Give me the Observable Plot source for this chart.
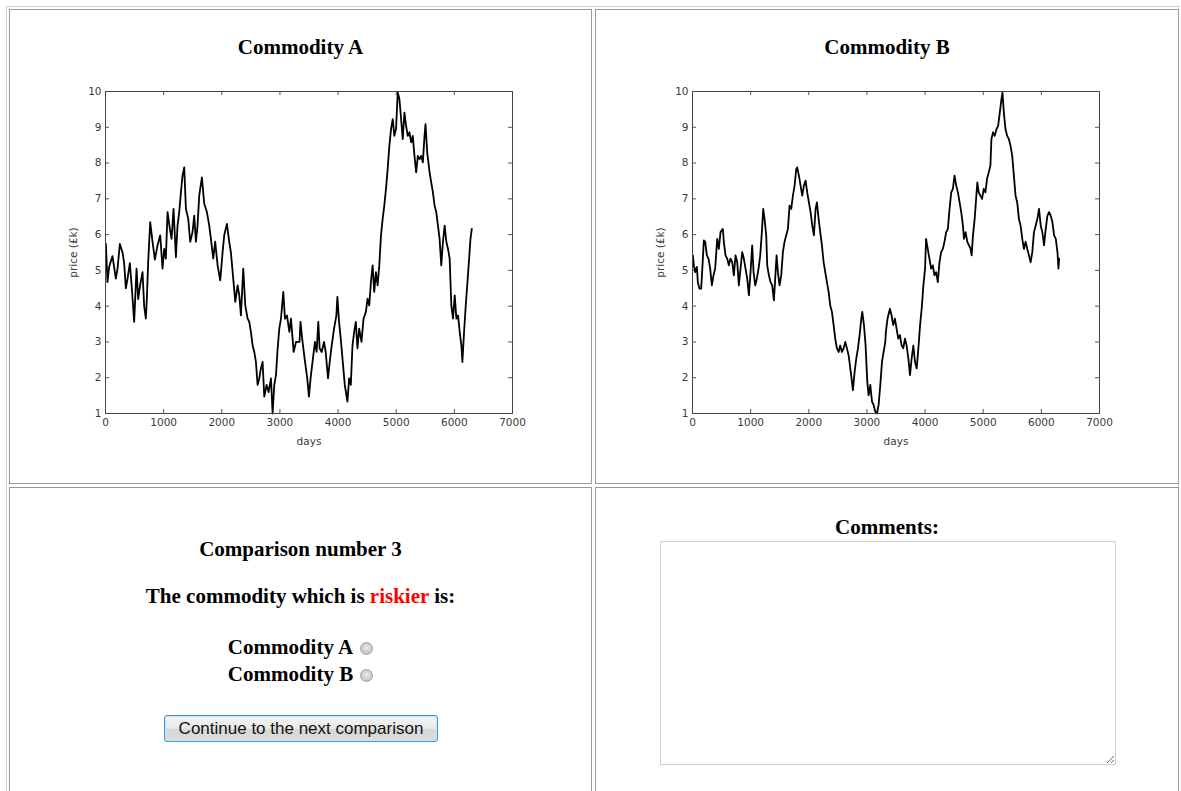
<!DOCTYPE html>
<html>
<head>
<meta charset="utf-8">
<script src="https://cdn.jsdelivr.net/npm/d3@7"></script>
<script src="https://cdn.jsdelivr.net/npm/@observablehq/plot@0.6"></script>
<style>
  html, body { margin:0; padding:0; background:#fff; overflow:hidden; width:1181px; height:791px; }
  .abs { position:absolute; }
  .outer { left:6px; top:6px; width:1173px; height:900px; border:1px solid #cfcfcf; box-sizing:border-box; }
  .cell { border:1px solid #9a9a9a; box-sizing:border-box; }
  .h { font-family:"Liberation Serif","Times New Roman",serif; font-weight:bold; font-size:21px; color:#000; text-align:center; line-height:24px; white-space:nowrap; }
  .red { color:#ff0000; }
  input[type=radio] { -webkit-appearance:none; appearance:none; margin:0 0 0 7px; width:13px; height:13px; vertical-align:-1px; border:1px solid #a0a0a0; border-radius:50%; box-sizing:border-box; background:radial-gradient(circle at 50% 45%, #eeeeee 0, #d2d2d2 45%, #bcbcbc 100%); }
  button { font-family:"Liberation Sans",Arial,sans-serif; font-size:17px; color:#111; border:1px solid #3d9ad6; border-radius:3px; background:linear-gradient(#f4f4f4,#e8e8e8 50%,#d7d7d7 52%,#dcdcdc); padding:0; box-shadow:inset 0 0 0 1px #c8e6f7; }
  textarea { border:1px solid #cfcfcf; box-sizing:border-box; padding:2px; margin:0; }
</style>
</head>
<body>
<div class="abs outer"></div>
<div class="abs cell" style="left:9px;top:9px;width:583px;height:475px;"></div>
<div class="abs cell" style="left:595px;top:9px;width:584px;height:475px;"></div>
<div class="abs cell" style="left:9px;top:487px;width:583px;height:400px;"></div>
<div class="abs cell" style="left:595px;top:487px;width:584px;height:400px;"></div>

<div class="abs h" style="left:9px;width:583px;top:35px;">Commodity A</div>
<div class="abs h" style="left:595px;width:584px;top:35px;">Commodity B</div>
<div id="chartA" class="abs" style="left:40px;top:70px;"></div>
<div id="chartB" class="abs" style="left:627px;top:70px;"></div>

<div class="abs h" style="left:9px;width:583px;top:537px;">Comparison number 3</div>
<div class="abs h" style="left:9px;width:583px;top:584px;">The commodity which is <span class="red">riskier</span> is:</div>
<div class="abs h" style="left:9px;width:583px;top:635px;">Commodity A<input type="radio" name="c"></div>
<div class="abs h" style="left:9px;width:583px;top:662px;">Commodity B<input type="radio" name="c"></div>
<button class="abs" style="left:164px;top:715px;width:274px;height:27px;">Continue to the next comparison</button>

<div class="abs h" style="left:595px;width:584px;top:515px;">Comments:</div>
<textarea class="abs" style="left:660px;top:541px;width:456px;height:224px;"></textarea>

<script>
const xTicks = [0,1000,2000,3000,4000,5000,6000,7000];
const yTicks = [1,2,3,4,5,6,7,8,9,10];

const daysA = [6,34,63,120,178,207,247,293,321,350,379,419,453,493,534,562,597,637,665,694,711,734,769,809,849,895,941,981,1010,1038,1067,1107,1136,1170,1211,1239,1268,1297,1325,1354,1383,1423,1457,1497,1526,1555,1583,1612,1658,1698,1744,1784,1813,1853,1887,1928,1973,2014,2042,2088,2128,2157,2197,2232,2272,2301,2329,2369,2404,2444,2473,2501,2530,2559,2587,2616,2645,2673,2702,2731,2771,2805,2846,2874,2903,2932,2960,2989,3018,3058,3087,3121,3162,3190,3236,3276,3337,3354,3383,3424,3470,3499,3527,3568,3602,3631,3660,3683,3718,3758,3787,3827,3856,3890,3931,3971,3988,4017,4046,4086,4115,4144,4161,4190,4219,4248,4277,4305,4334,4363,4403,4438,4478,4507,4536,4565,4594,4622,4651,4680,4709,4738,4767,4795,4824,4853,4882,4911,4940,4968,4997,5026,5055,5084,5112,5141,5170,5199,5228,5257,5285,5314,5343,5372,5401,5429,5458,5487,5504,5533,5574,5602,5631,5660,5689,5718,5746,5775,5804,5833,5862,5891,5919,5948,5977,6006,6035,6064,6092,6121,6138,6167,6196,6225,6254,6277,6300];
const priceA = [5.75,4.67,5.1,5.4,4.77,5.05,5.74,5.5,5.2,4.5,4.77,5.2,4.5,3.56,5.05,4.2,4.6,4.95,4.0,3.65,4.2,5.23,6.35,5.8,5.3,5.7,5.98,5.05,5.6,5.33,6.63,6.16,5.88,6.72,5.37,6.25,6.63,7.18,7.65,7.88,6.72,6.44,5.8,6.07,6.53,5.8,6.25,7.09,7.6,6.86,6.63,6.25,5.88,5.33,5.8,5.14,4.72,5.51,5.98,6.3,5.8,5.5,4.77,4.12,4.58,4.3,3.74,5.05,4.02,3.65,3.56,3.28,2.9,2.72,2.44,1.8,1.98,2.26,2.44,1.47,1.8,1.6,1.98,1.0,1.8,2.07,2.8,3.37,3.65,4.4,3.65,3.74,3.28,3.65,2.72,3.0,3.0,3.56,3.09,2.54,1.98,1.47,1.98,2.54,3.0,2.72,3.56,2.82,2.72,3.0,2.72,1.98,2.44,2.9,3.37,3.74,4.26,3.56,3.09,2.35,1.8,1.51,1.33,1.98,1.8,2.9,3.28,3.56,2.82,3.37,3.0,3.65,3.84,4.21,4.02,4.67,5.14,4.4,4.95,4.58,5.14,5.98,6.44,6.81,7.28,7.83,8.48,8.95,9.23,8.76,8.95,9.97,9.79,9.23,8.67,9.41,9.04,8.76,8.86,8.58,8.76,8.2,7.74,8.2,8.11,8.2,8.02,8.76,9.09,8.3,7.74,7.46,7.18,6.81,6.63,6.25,5.88,5.14,5.8,6.25,5.8,5.6,5.33,4.02,3.65,4.3,3.65,3.74,3.28,2.9,2.44,3.28,4.02,4.67,5.33,5.88,6.16];

const daysB = [6,23,46,75,92,120,149,166,195,218,247,275,304,333,361,390,425,453,482,522,539,568,597,625,654,683,711,740,769,797,826,855,883,912,941,970,998,1027,1050,1079,1107,1136,1165,1193,1216,1239,1268,1285,1314,1342,1371,1400,1429,1446,1469,1497,1526,1555,1583,1612,1641,1669,1698,1727,1756,1784,1801,1830,1859,1887,1916,1945,1973,2002,2031,2060,2088,2117,2140,2169,2197,2226,2255,2283,2312,2341,2369,2398,2427,2455,2484,2513,2541,2570,2599,2628,2656,2685,2714,2742,2759,2788,2817,2846,2874,2903,2920,2949,2977,3006,3029,3058,3087,3115,3144,3173,3201,3230,3259,3287,3316,3326,3354,3395,3424,3452,3481,3510,3539,3568,3597,3625,3654,3683,3712,3741,3769,3798,3827,3856,3885,3914,3942,3971,4000,4017,4046,4075,4104,4133,4161,4190,4219,4248,4277,4305,4334,4363,4392,4421,4450,4478,4507,4536,4565,4594,4622,4651,4669,4697,4726,4755,4784,4801,4824,4853,4882,4899,4922,4951,4980,5009,5038,5066,5095,5124,5141,5170,5199,5228,5257,5285,5314,5331,5355,5383,5412,5441,5470,5499,5527,5556,5585,5614,5643,5672,5700,5729,5758,5787,5816,5844,5873,5902,5931,5960,5989,6017,6046,6075,6104,6133,6161,6190,6219,6248,6277,6294,6306];
const priceB = [5.42,5.14,4.95,5.1,4.67,4.49,4.49,4.95,5.84,5.8,5.42,5.33,5.05,4.58,4.86,5.05,5.88,5.6,6.07,6.16,5.8,5.42,5.33,5.14,5.33,5.23,4.86,5.42,5.23,4.58,5.05,5.51,5.33,5.05,4.77,4.3,4.95,5.7,4.95,4.58,4.77,5.05,5.42,6.07,6.72,6.44,5.98,5.14,4.86,4.67,4.58,4.16,4.95,5.42,4.95,4.58,4.86,5.51,5.8,5.98,6.16,6.81,6.72,7.09,7.37,7.83,7.88,7.65,7.37,7.09,7.37,7.51,7.18,6.9,6.63,6.25,5.98,6.72,6.9,6.44,6.07,5.7,5.23,4.95,4.67,4.4,4.02,3.84,3.47,3.09,2.82,2.72,2.9,2.72,2.82,3.0,2.82,2.63,2.26,1.89,1.65,2.16,2.54,2.82,3.19,3.65,3.84,3.47,2.9,1.89,1.51,1.8,1.33,1.24,1.05,1.0,1.24,1.8,2.44,2.72,3.0,3.28,3.65,3.93,3.74,3.47,3.65,3.37,3.09,3.19,2.9,2.82,3.09,2.9,2.54,2.07,2.54,2.9,2.44,2.26,2.82,3.47,3.93,4.58,5.05,5.88,5.6,5.33,5.05,5.14,4.86,4.95,4.67,5.23,5.51,5.6,5.8,6.07,6.16,6.72,7.18,7.28,7.65,7.37,7.18,6.9,6.63,6.25,5.88,6.07,5.8,5.7,5.6,5.42,5.98,6.44,7.09,7.46,7.18,7.09,7.0,7.28,7.18,7.56,7.74,7.93,8.67,8.86,8.76,8.95,9.04,9.41,9.79,9.97,9.41,8.95,8.76,8.67,8.48,8.2,7.65,7.09,6.9,6.44,6.25,5.88,5.6,5.8,5.6,5.42,5.23,5.51,6.07,6.25,6.44,6.72,6.25,6.07,5.7,6.16,6.53,6.63,6.53,6.35,5.98,5.88,5.51,5.05,5.33];

function chart(days, prices) {
  const data = days.map((d, i) => ({day: d, price: prices[i]}));
  const W = 520, H = 390, mL = 65, mR = 48, mT = 21, mB = 47;
  const pw = W - mL - mR, ph = H - mT - mB, t = 4;
  const tickStyle = {stroke: "#555", strokeWidth: 1};
  return Plot.plot({
    width: W, height: H, marginLeft: mL, marginRight: mR, marginTop: mT, marginBottom: mB,
    style: {fontFamily: "'DejaVu Sans', sans-serif", fontSize: "10.5px", color: "#3a3a3a", background: "transparent"},
    x: {domain: [0, 7000]},
    y: {domain: [1, 10]},
    marks: [
      Plot.axisX(xTicks, {tickSize: 0, tickPadding: 5, tickFormat: d => String(d), label: "days", labelAnchor: "center", labelArrow: "none", labelOffset: 31}),
      Plot.axisY(yTicks, {tickSize: 0, tickPadding: 4, tickFormat: d => String(d), label: "price (£k)", labelAnchor: "center", labelArrow: "none", labelOffset: 36}),
      Plot.tickX(xTicks, {x: d => d, insetTop: ph - t, ...tickStyle}),
      Plot.tickX(xTicks, {x: d => d, insetBottom: ph - t, ...tickStyle}),
      Plot.tickY(yTicks, {y: d => d, insetRight: pw - t, ...tickStyle}),
      Plot.tickY(yTicks, {y: d => d, insetLeft: pw - t, ...tickStyle}),
      Plot.line(data, {x: "day", y: "price", stroke: "#000", strokeWidth: 1.8}),
      Plot.frame({stroke: "#444"})
    ]
  });
}
document.getElementById("chartA").append(chart(daysA, priceA));
document.getElementById("chartB").append(chart(daysB, priceB));
</script>
</body>
</html>
